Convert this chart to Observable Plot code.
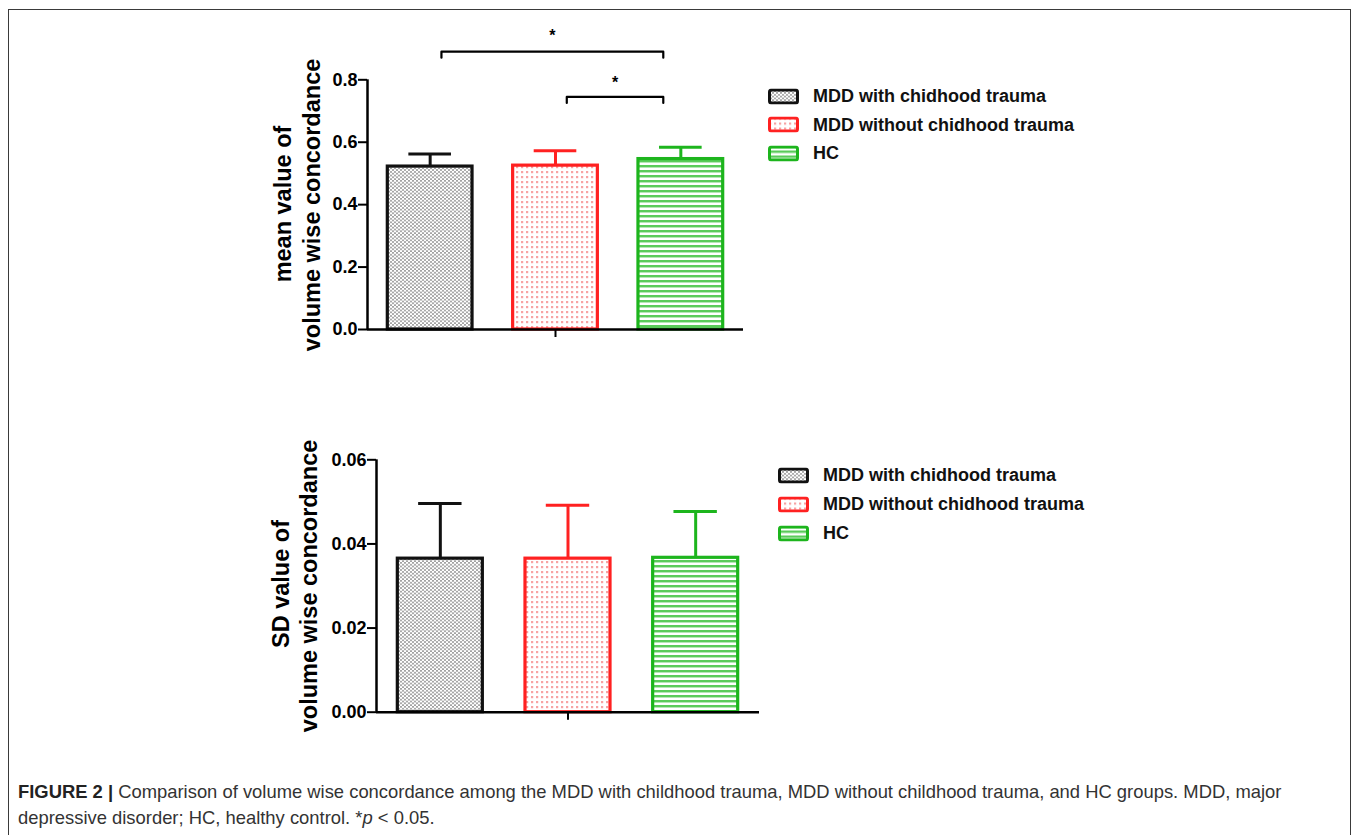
<!DOCTYPE html>
<html><head><meta charset="utf-8">
<script src="https://cdn.jsdelivr.net/npm/d3@7"></script>
<script src="https://cdn.jsdelivr.net/npm/@observablehq/plot@0.6"></script>
<style>
body{margin:0;background:#fff;}
#root{position:relative;width:1360px;height:835px;overflow:hidden;font-family:"Liberation Sans",Arial,sans-serif;background:#fff;}
#frame{position:absolute;left:8px;top:9px;width:1343px;height:900px;border:1.5px solid #3a3a3a;box-sizing:border-box;}
.chart{position:absolute;}
.ylab{position:absolute;transform:translate(-50%,-50%) rotate(-90deg);white-space:nowrap;font-weight:bold;font-size:23.5px;color:#000;}
.lrow{position:absolute;display:flex;align-items:center;transform:translateY(-50%);font-weight:bold;font-size:18px;color:#111;white-space:nowrap;}
.lrow svg{margin-right:14px;}
#caption{position:absolute;left:18px;top:779px;width:1330px;font-size:18.4px;line-height:26px;color:#333;}
</style></head><body>
<div id="root">
<svg width="0" height="0" style="position:absolute">
<defs>
<pattern id="pat0" width="4" height="3.6" patternUnits="userSpaceOnUse">
<rect width="4" height="3.6" fill="#fff"/>
<circle cx="1" cy="0.9" r="0.95" fill="#8c8c8c"/>
<circle cx="3" cy="2.7" r="0.95" fill="#8c8c8c"/>
</pattern>
<pattern id="pat1" width="5" height="5" patternUnits="userSpaceOnUse">
<rect width="5" height="5" fill="#fff"/>
<rect x="1" y="1" width="2.2" height="2.2" fill="#f7a3a3"/>
</pattern>
<pattern id="pat2" width="5" height="5" patternUnits="userSpaceOnUse">
<rect width="5" height="5" fill="#fff"/>
<rect x="0" y="0" width="5" height="2" fill="#5acb5a"/>
<rect x="0" y="2" width="5" height="1" fill="#b5e8b5"/>
</pattern>
</defs>
</svg>
<div id="frame"></div>
</div>
<script>
// ---- data ----
const groups = ["MDD with chidhood trauma", "MDD without chidhood trauma", "HC"];
const groupColors = ["#111111", "#ff2121", "#1db51d"];
const meanValues = [0.522, 0.525, 0.546];
const meanErrors = [0.040, 0.048, 0.038];
const sdValues = [0.0365, 0.0365, 0.0367];
const sdErrors = [0.0131, 0.0127, 0.0110];
const meanTicks = [0, 0.2, 0.4, 0.6, 0.8];
const sdTicks = [0, 0.02, 0.04, 0.06];
const meanBrackets = [
  {from: 0, to: 2, level: 0.89, label: "*"},
  {from: 1, to: 2, level: 0.745, label: "*"}
];
const meanLabel = ["mean value of", "volume wise concordance"];
const sdLabel = ["SD value of", "volume wise concordance"];
const captionBold = "FIGURE 2 |";
const captionText = " Comparison of volume wise concordance among the MDD with childhood trauma, MDD without childhood trauma, and HC groups. MDD, major";
const captionText2 = "depressive disorder; HC, healthy control. *";
const captionEnd = " < 0.05.";

const root = document.getElementById("root");

function makeChart(cfg) {
  const {values, errors, ticks, fmt, width, height, mt, mb, ml, mr, half, brackets} = cfg;
  const yMax = ticks[ticks.length - 1];
  const pxPerUnit = (height - mt - mb) / yMax;
  const u = px => px / pxPerUnit;
  const data = groups.map((g, i) => ({g, i, v: values[i], e: values[i] + errors[i], c: groupColors[i], p: `url(#pat${i})`}));
  const bpts = [];
  const stars = [];
  (brackets || []).forEach((b, k) => {
    const x1 = b.from + 0.09, x2 = b.to - 0.14;
    bpts.push({k, x: x1, y: b.level - u(6)}, {k, x: x1, y: b.level}, {k, x: x2, y: b.level}, {k, x: x2, y: b.level - u(6)});
    stars.push({x: (x1 + x2) / 2, y: b.level + u(k === 0 ? 16 : 14), label: b.label});
  });
  const chart = Plot.plot({
    width, height, marginTop: mt, marginBottom: mb, marginLeft: ml, marginRight: mr,
    style: {background: "transparent", overflow: "visible", fontFamily: "Liberation Sans, Arial, sans-serif"},
    x: {domain: [-0.5, 2.5], axis: null},
    y: {domain: [0, yMax]},
    color: {type: "identity"},
    marks: [
      Plot.rect(data, {x1: d => d.i - half, x2: d => d.i + half, y1: 0, y2: "v", fill: "p", stroke: "c", strokeWidth: 3.2}),
      Plot.ruleX(data, {x: "i", y1: "v", y2: "e", stroke: "c", strokeWidth: 3}),
      Plot.ruleY(data, {y: "e", x1: d => d.i - 0.17, x2: d => d.i + 0.17, stroke: "c", strokeWidth: 3}),
      Plot.ruleX([-0.5], {y1: 0, y2: yMax, stroke: "#000", strokeWidth: 2.5}),
      Plot.ruleY([0], {x1: -0.5, x2: 2.5, stroke: "#000", strokeWidth: 2.5}),
      Plot.ruleX([1], {y1: 0, y2: -u(8), stroke: "#000", strokeWidth: 2}),
      Plot.axisY(ticks, {tickFormat: fmt, tickSize: 9, tickPadding: 1, fontSize: 18, fontWeight: "bold", strokeWidth: 2, label: null, stroke: "#000", fill: "#000"}),
      Plot.line(bpts, {x: "x", y: "y", z: "k", stroke: "#000", strokeWidth: 2.2}),
      Plot.text(stars, {x: "x", y: "y", text: "label", fontSize: 16, fontWeight: "bold", fill: "#000"})
    ]
  });
  chart.classList.add("chart");
  chart.style.left = cfg.left + "px";
  chart.style.top = cfg.top + "px";
  root.appendChild(chart);
}

makeChart({values: meanValues, errors: meanErrors, ticks: meanTicks, fmt: d3.format(".1f"),
  left: 0, top: 0, width: 760, height: 380, mt: 79.3, mb: 51, ml: 367, mr: 17, half: 0.338, brackets: meanBrackets});
makeChart({values: sdValues, errors: sdErrors, ticks: sdTicks, fmt: d3.format(".2f"),
  left: 0, top: 400, width: 780, height: 360, mt: 59.3, mb: 48.3, ml: 376, mr: 21, half: 0.333, brackets: []});

function ylab(text, x, y) {
  const d = document.createElement("div");
  d.className = "ylab";
  d.textContent = text;
  d.style.left = x + "px"; d.style.top = y + "px";
  root.appendChild(d);
}
ylab(meanLabel[0], 283, 204);
ylab(meanLabel[1], 312, 205);
ylab(sdLabel[0], 281, 584);
ylab(sdLabel[1], 309, 586);

function legend(x, ys, swW) {
  groups.forEach((g, i) => {
    const row = document.createElement("div");
    row.className = "lrow";
    row.style.left = x + "px"; row.style.top = ys[i] + "px";
    row.innerHTML = `<svg width="${swW}" height="16"><rect x="1.5" y="1.5" width="${swW - 3}" height="13" rx="2" fill="url(#pat${i})" stroke="${groupColors[i]}" stroke-width="3"/></svg><span></span>`;
    row.querySelector("span").textContent = g;
    root.appendChild(row);
  });
}
legend(768, [96, 124.5, 153], 31);
legend(778, [475, 504, 533], 31);

const cap = document.createElement("div");
cap.id = "caption";
const b = document.createElement("b"); b.textContent = captionBold; b.style.color = "#222";
cap.appendChild(b);
cap.appendChild(document.createTextNode(captionText));
cap.appendChild(document.createElement("br"));
cap.appendChild(document.createTextNode(captionText2));
const it = document.createElement("i"); it.textContent = "p";
cap.appendChild(it);
cap.appendChild(document.createTextNode(captionEnd));
root.appendChild(cap);
</script>
</body></html>
